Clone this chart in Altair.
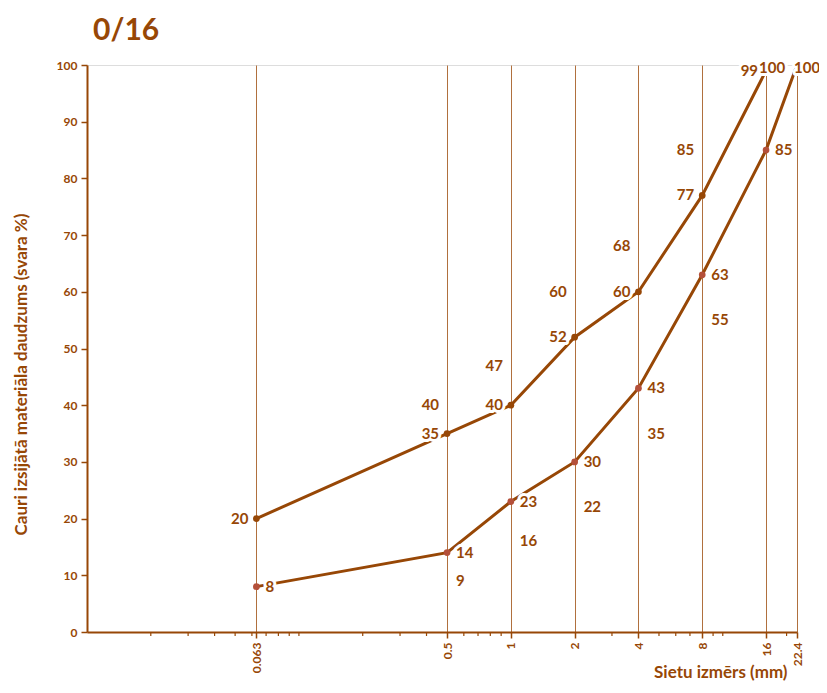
import altair as alt
import pandas as pd

# ---- data ----
sieve_sizes = [0.063, 0.5, 1, 2, 4, 8, 16, 22.4]
minor_ticks = [0.02, 0.03, 0.04, 0.05, 0.06, 0.07, 0.08, 0.09, 0.1,
               0.2, 0.3, 0.4, 0.6, 0.7, 0.8, 0.9, 3, 5, 6, 7, 9, 10, 20]
y_ticks = [0, 10, 20, 30, 40, 50, 60, 70, 80, 90, 100]

upper_x = [0.063, 0.5, 1, 2, 4, 8, 16]
upper_y = [20, 35, 40, 52, 60, 77, 99]

lower_x = [0.063, 0.5, 1, 2, 4, 8, 16, 22.4]
lower_y = [8, 14, 23, 30, 43, 63, 85, 100]

mid_upper_x = [0.5, 1, 2, 4, 8]
mid_upper_y = [40, 47, 60, 68, 85]

mid_lower_x = [0.5, 1, 2, 4, 8]
mid_lower_y = [9, 16, 22, 35, 55]

top_x = [16]
top_y = [100]

BROWN = "#974706"
DOT_LOWER = "#B4503A"
GRID = "#B0703E"
FONT = "Lato"

W, H = 710, 567

df_upper = pd.DataFrame({"x": upper_x, "y": upper_y})
df_lower = pd.DataFrame({"x": lower_x, "y": lower_y})
df_mid_upper = pd.DataFrame({"x": mid_upper_x, "y": mid_upper_y})
df_mid_lower = pd.DataFrame({"x": mid_lower_x, "y": mid_lower_y})
df_top = pd.DataFrame({"x": top_x, "y": top_y})
df_minor = pd.DataFrame({"x": minor_ticks})

x_scale = alt.Scale(type="log", domain=[0.01, 22.4], nice=False)
y_scale = alt.Scale(domain=[0, 100], nice=False)

x_axis = alt.Axis(
    values=sieve_sizes, labelExpr="'' + datum.value",
    title="Sietu izmērs (mm)", titleFont=FONT, titleFontSize=17, titleFontWeight="bold",
    titleColor=BROWN, titleAnchor="end", titleAlign="right", titleBaseline="alphabetic",
    titleX=700, titleY=45,
    labelAngle=270, labelAlign="right", labelBaseline="middle",
    labelFont=FONT, labelFontSize=12, labelFontWeight="bold", labelColor=BROWN,
    labelPadding=4, labelOverlap=False, labelFlush=False,
    domainColor=BROWN, domainWidth=2, tickColor=BROWN, tickWidth=1.5, tickSize=6,
    grid=True, gridColor=GRID, gridWidth=1,
)
y_axis = alt.Axis(
    values=y_ticks, title="Cauri izsijātā materiāla daudzums (svara %)",
    titleFont=FONT, titleFontSize=17, titleFontWeight="bold", titleColor=BROWN,
    titleX=-66, titleY=309, titleAlign="center", titleBaseline="middle",
    labelFont=FONT, labelFontSize=12, labelFontWeight="bold", labelColor=BROWN,
    labelPadding=4,
    domainColor=BROWN, domainWidth=2, tickColor=BROWN, tickWidth=1.5, tickSize=6,
    grid=False,
)

X = alt.X("x:Q", scale=x_scale, axis=x_axis)
Y = alt.Y("y:Q", scale=y_scale, axis=y_axis)


def line(df, dot_color):
    base = alt.Chart(df).encode(x=X, y=Y)
    return [
        base.mark_line(color=BROWN, strokeWidth=3),
        base.mark_point(filled=True, color=dot_color, size=45, opacity=1),
    ]


def labels(df, align, dx, dy=0):
    base = alt.Chart(df).encode(x=X, y=Y, text=alt.Text("y:Q", format="d"))
    halo = base.mark_text(align=align, baseline="middle", dx=dx, dy=dy, font=FONT,
                          fontSize=15, fontWeight="bold", color="white",
                          stroke="white", strokeWidth=6, strokeJoin="round")
    txt = base.mark_text(align=align, baseline="middle", dx=dx, dy=dy, font=FONT,
                         fontSize=15, fontWeight="bold", color=BROWN)
    return halo, txt


minor = alt.Chart(df_minor).mark_rule(color=BROWN, strokeWidth=1.2).encode(
    x=X, y=alt.value(H), y2=alt.value(H + 4)
)

layers = [minor]
layers += line(df_upper, BROWN)
layers += line(df_lower, DOT_LOWER)

label_sets = [
    labels(df_upper, "right", -8),
    labels(df_mid_upper, "right", -8),
    labels(df_lower.iloc[:-1], "left", 9),
    labels(df_lower.iloc[-1:], "left", -3, 3),
    labels(df_mid_lower, "left", 9),
    labels(df_top, "center", 6, 3),
]
layers += [h for h, t in label_sets]
layers += [t for h, t in label_sets]

chart = alt.layer(*layers).properties(
    width=W, height=H,
    title=alt.TitleParams("0/16", anchor="start", font=FONT, fontSize=30, fontWeight="bold",
                          color=BROWN, dx=6, offset=13, frame="group"),
    autosize=alt.AutoSizeParams(type="none"),
    padding={"left": 79, "top": 57, "right": 22, "bottom": 49},
).configure_view(stroke=None).configure(background="white")

chart.save("out.html", embed_options={"renderer": "svg", "actions": False})
